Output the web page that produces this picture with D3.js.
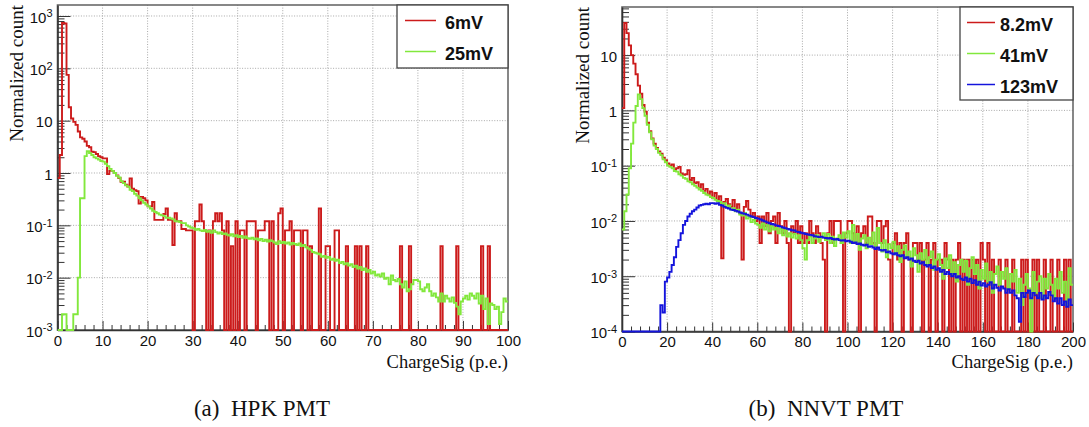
<!DOCTYPE html>
<html>
<head>
<meta charset="utf-8">
<title>ChargeSig spectra</title>
<script src="https://d3js.org/d3.v7.min.js"></script>
<style>
  body { margin: 0; background: #fff; }
  svg { display: block; }
</style>
</head>
<body>
<div id="chart"></div>
<script>
// ---- data ----
// (a) HPK: bins of 0.5 p.e. from 0 to 100
const hpkBinWidth = 0.5;
const hpk6mV = [
  0.8, 2.2, 740, 720, 75, 18, 11, 9.5, 8.3, 6.2,
  4.8, 4.5, 4.0, 3.3, 3.1, 2.55, 2.5, 2.3, 2.1, 2.0,
  1.9, 1.9, 0.95, 1.1, 1.1, 1.0, 0.9, 0.8, 0.68, 0.68,
  0.6, 0.55, 0.79, 0.5, 0.47, 0.45, 0.26, 0.35, 0.33, 0.3,
  0.23, 0.23, 0.28, 0.127, 0.127, 0.127, 0.127, 0.165, 0.21, 0.127,
  0.127, 0.042, 0.17, 0.12, 0.12, 0.085, 0.085, 0.08, 0.08, 0.08,
  0, 0.12, 0.12, 0.25, 0.12, 0.08, 0, 0.08, 0, 0.12,
  0.17, 0.12, 0.17, 0.08, 0, 0.12, 0, 0.04, 0, 0.12,
  0, 0.08, 0.08, 0, 0.12, 0.12, 0.12, 0.12, 0, 0.08,
  0.08, 0.08, 0.12, 0.12, 0, 0.12, 0, 0, 0.17, 0.21,
  0, 0.08, 0.08, 0.12, 0, 0.08, 0.08, 0.08, 0, 0.08,
  0.08, 0, 0.04, 0, 0, 0, 0.21, 0, 0, 0.04,
  0.04, 0, 0, 0.08, 0.08, 0, 0, 0, 0.04, 0,
  0, 0, 0.04, 0, 0.04, 0, 0, 0.04, 0, 0,
  0, 0, 0, 0, 0, 0, 0, 0, 0, 0,
  0, 0, 0.04, 0, 0, 0, 0.04, 0, 0, 0,
  0, 0, 0, 0, 0, 0, 0, 0, 0, 0,
  0.04, 0, 0, 0, 0, 0, 0, 0.04, 0, 0,
  0, 0, 0, 0, 0, 0, 0, 0, 0.04, 0,
  0, 0.04, 0, 0, 0, 0, 0, 0, 0, 0
];
const hpk25mV = [
  0, 0, 0.002, 0.002, 0, 0, 0, 0.002, 0.002, 0.01,
  0.33, 0.33, 2.1, 2.6, 2.4, 2.2, 2.0, 1.9, 1.8, 1.7,
  1.65, 1.5, 1.35, 1.2, 1.1, 1.0, 0.88, 0.82, 0.7, 0.64,
  0.58, 0.55, 0.48, 0.45, 0.4, 0.37, 0.33, 0.3, 0.27, 0.25,
  0.23, 0.21, 0.19, 0.18, 0.17, 0.16, 0.155, 0.15, 0.14, 0.14,
  0.135, 0.13, 0.12, 0.12, 0.115, 0.11, 0.11, 0.1, 0.095, 0.09,
  0.088, 0.082, 0.085, 0.08, 0.078, 0.082, 0.075, 0.078, 0.072, 0.08,
  0.074, 0.07, 0.073, 0.068, 0.07, 0.066, 0.064, 0.068, 0.062, 0.065,
  0.06, 0.063, 0.058, 0.061, 0.057, 0.055, 0.058, 0.054, 0.056, 0.052,
  0.055, 0.05, 0.053, 0.049, 0.052, 0.05, 0.047, 0.044, 0.05, 0.046,
  0.048, 0.045, 0.047, 0.043, 0.046, 0.044, 0.042, 0.045, 0.04, 0.042,
  0.038, 0.036, 0.034, 0.031, 0.03, 0.029, 0.028, 0.025, 0.026, 0.024,
  0.025, 0.022, 0.023, 0.021, 0.022, 0.019, 0.02, 0.018, 0.019, 0.017,
  0.018, 0.016, 0.017, 0.015, 0.016, 0.014, 0.015, 0.013, 0.014, 0.012,
  0.013, 0.011, 0.0115, 0.0105, 0.012, 0.0095, 0.01, 0.0075, 0.011, 0.009,
  0.0085, 0.0095, 0.0075, 0.0065, 0.0085, 0.0055, 0.006, 0.0075, 0.009, 0.009,
  0.0085, 0.006, 0.0055, 0.0065, 0.0075, 0.0055, 0.0045, 0.005, 0.0042, 0.0035,
  0.005, 0.0035, 0.0045, 0.004, 0.0035, 0.0042, 0.0033, 0.0028, 0.002, 0.0035,
  0.004, 0.0045, 0.0038, 0.005, 0.0045, 0.004, 0.005, 0.0032, 0.0045, 0.0025,
  0.004, 0.0013, 0.0032, 0.003, 0.0025, 0.0028, 0.0013, 0.0022, 0.004, 0.0035
];
const hpkXTicks = [0, 10, 20, 30, 40, 50, 60, 70, 80, 90, 100];
const hpkYTicks = [1e-3, 1e-2, 1e-1, 1, 10, 100, 1000];
const hpkLegend = ["6mV", "25mV"];

// (b) NNVT: bins of 1 p.e. from 0 to 200
const nnvtBinWidth = 1;
const nnvt8mV = [
  1.1, 38, 25, 15, 10, 7, 4.5, 2.8, 2.0, 1.25,
  0.95, 0.6, 0.42, 0.31, 0.25, 0.21, 0.18, 0.165, 0.14, 0.125,
  0.11, 0.1, 0.105, 0.085, 0.09, 0.095, 0.072, 0.068, 0.07, 0.083,
  0.055, 0.06, 0.048, 0.05, 0.04, 0.046, 0.035, 0.038, 0.03, 0.034,
  0.026, 0.032, 0.024, 0.028, 0.0021, 0.022, 0.025, 0.02, 0.018, 0.024,
  0.016, 0.02, 0.014, 0.002, 0.018, 0.023, 0.016, 0.012, 0.014, 0.01,
  0.012, 0.004, 0.012, 0.008, 0.014, 0.006, 0.01, 0.012, 0.004, 0.014,
  0.008, 0.006, 0.01, 0.004, 0, 0.008, 0.006, 0.01, 0.004, 0.008,
  0.004, 0.006, 0.004, 0.01, 0.006, 0.004, 0.008, 0.006, 0.004, 0.002,
  0, 0.006, 0.01, 0.004, 0.01, 0.01, 0.01, 0.004, 0, 0.006,
  0.01, 0.01, 0.006, 0.004, 0.008, 0, 0.006, 0.008, 0.004, 0.012,
  0.012, 0.004, 0, 0.01, 0.01, 0.004, 0.008, 0.01, 0.002, 0,
  0.004, 0.006, 0.002, 0.004, 0, 0.004, 0.006, 0.002, 0, 0.004,
  0.004, 0.002, 0.004, 0, 0.002, 0.004, 0, 0.002, 0.004, 0,
  0.002, 0.002, 0, 0.004, 0.002, 0, 0.002, 0, 0.002, 0.004,
  0, 0.002, 0, 0.002, 0, 0.002, 0, 0.002, 0, 0.004,
  0.002, 0, 0.004, 0, 0.002, 0, 0, 0.002, 0, 0,
  0.002, 0, 0, 0.002, 0, 0, 0, 0.002, 0, 0.002,
  0, 0, 0.002, 0, 0.002, 0, 0, 0.002, 0, 0,
  0.002, 0, 0, 0.002, 0, 0, 0.002, 0, 0.002, 0
];
const nnvt41mV = [
  0.007, 0.015, 0.03, 0.09, 0.25, 0.6, 1.2, 1.95, 1.6, 1.1,
  0.8, 0.55, 0.4, 0.3, 0.23, 0.2, 0.17, 0.155, 0.13, 0.115,
  0.1, 0.095, 0.09, 0.08, 0.078, 0.07, 0.066, 0.06, 0.058, 0.052,
  0.05, 0.046, 0.043, 0.04, 0.037, 0.035, 0.032, 0.03, 0.029, 0.027,
  0.026, 0.024, 0.023, 0.022, 0.02, 0.021, 0.018, 0.019, 0.016, 0.017,
  0.015, 0.016, 0.013, 0.0125, 0.014, 0.011, 0.012, 0.0095, 0.0105, 0.009,
  0.0085, 0.0075, 0.009, 0.007, 0.0085, 0.0065, 0.008, 0.007, 0.0075, 0.006,
  0.0072, 0.0055, 0.0068, 0.0052, 0.006, 0.005, 0.0058, 0.0048, 0.0055, 0.0045,
  0.0032, 0.002, 0.0045, 0.0052, 0.004, 0.0048, 0.0055, 0.0042, 0.005, 0.006,
  0.0045, 0.0058, 0.004, 0.0052, 0.0035, 0.0048, 0.0055, 0.004, 0.0062, 0.005,
  0.0065, 0.004, 0.0085, 0.0042, 0.0058, 0.003, 0.0048, 0.0055, 0.0032, 0.005,
  0.0038, 0.0062, 0.0035, 0.0075, 0.004, 0.0028, 0.0045, 0.0022, 0.0038, 0.0032,
  0.0042, 0.0025, 0.0035, 0.0018, 0.003, 0.0036, 0.0022, 0.0028, 0.0015, 0.0032,
  0.0024, 0.0012, 0.0026, 0.002, 0.003, 0.0016, 0.0022, 0.0028, 0.0013, 0.002,
  0.0025, 0.0016, 0.0009, 0.0021, 0.0014, 0.0024, 0.0011, 0.0018, 0.0008, 0.0016,
  0.002, 0.0012, 0.0019, 0.0007, 0.0014, 0.0022, 0.0011, 0.0016, 0.0006, 0.0013,
  0.0009, 0.0017, 0.0008, 0.0012, 0.0005, 0.0011, 0.0015, 0.0007, 0.0012, 0.0009,
  0.0014, 0.0006, 0.0011, 0.0008, 0.0013, 0.0005, 0.0009, 0.0003, 0.0007, 0.0011,
  0.0006, 0.0001, 0.0012, 0.0005, 0.0008, 0.001, 0.0004, 0.0009, 0.0006, 0.0011,
  0.0007, 0.0004, 0.0009, 0.0006, 0.0012, 0.0005, 0.0008, 0.0003, 0.0014, 0.0007
];
const nnvt123mV = [
  0, 0, 0, 0, 0, 0, 0, 0, 0, 0,
  0, 0, 0, 0, 0, 0, 0, 0.0003, 0.00022, 0.0008,
  0.00095, 0.0012, 0.0016, 0.0022, 0.0034, 0.0045, 0.006, 0.0085, 0.01, 0.012,
  0.0135, 0.015, 0.016, 0.0175, 0.019, 0.0195, 0.02, 0.0205, 0.02, 0.021,
  0.021, 0.0205, 0.021, 0.0195, 0.019, 0.018, 0.0172, 0.0168, 0.016, 0.0158,
  0.0152, 0.0148, 0.0142, 0.0138, 0.0134, 0.013, 0.0125, 0.012, 0.0117, 0.0113,
  0.011, 0.0106, 0.0102, 0.0098, 0.0094, 0.0091, 0.0088, 0.0086, 0.0083, 0.0081,
  0.0079, 0.0076, 0.0074, 0.0072, 0.007, 0.0068, 0.0067, 0.0064, 0.0063, 0.0061,
  0.006, 0.0058, 0.0057, 0.0056, 0.0055, 0.0053, 0.0052, 0.0051, 0.0052, 0.005,
  0.0049, 0.0048, 0.0049, 0.0047, 0.0046, 0.0047, 0.0045, 0.0044, 0.0045, 0.0043,
  0.0044, 0.0042, 0.004, 0.0041, 0.0038, 0.0039, 0.0037, 0.0036, 0.0037, 0.0034,
  0.0035, 0.0033, 0.0031, 0.0033, 0.003, 0.0029, 0.003, 0.0027, 0.0028, 0.0026,
  0.0025, 0.0026, 0.0024, 0.0023, 0.0024, 0.0021, 0.0022, 0.002, 0.0021, 0.0019,
  0.0018, 0.0019, 0.0017, 0.0018, 0.0016, 0.0015, 0.0016, 0.0014, 0.0015, 0.0013,
  0.0014, 0.0012, 0.0013, 0.0011, 0.0012, 0.0011, 0.001, 0.0011, 0.00095, 0.001,
  0.0009, 0.00085, 0.00095, 0.0008, 0.0009, 0.00075, 0.00085, 0.0007, 0.0008, 0.00068,
  0.00075, 0.00065, 0.0007, 0.00078, 0.0006, 0.0007, 0.00062, 0.00055, 0.00065, 0.0006,
  0.0005, 0.00058, 0.0005, 0.00055, 0.00045, 0.0004, 0.00015, 0.0005, 0.00042, 0.0005,
  0.00055, 0.0004, 0.0005, 0.00045, 0.0004, 0.0005, 0.00038, 0.00045, 0.0004, 0.00052,
  0.00045, 0.00035, 0.0004, 0.00032, 0.0004, 0.0003, 0.00035, 0.00028, 0.00038, 0.0003
];
const nnvtXTicks = [0, 20, 40, 60, 80, 100, 120, 140, 160, 180, 200];
const nnvtYTicks = [1e-4, 1e-3, 1e-2, 1e-1, 1, 10];
const nnvtLegend = ["8.2mV", "41mV", "123mV"];

const xTitle = "ChargeSig (p.e.)";
const yTitle = "Normalized count";
const captions = ["(a)\u00a0\u00a0HPK PMT", "(b)\u00a0\u00a0NNVT PMT"];

// ---- drawing ----
const RED = "#cc1b1b", GREEN = "#82e83c", BLUE = "#1414dc";
const SANS = "'Liberation Sans', Arial, Helvetica, sans-serif";
const SERIF = "'Liberation Serif', 'Times New Roman', serif";

let svg = d3.select("#chart").append("svg")
    .attr("width", 1089)
    .attr("height", 427);
svg.append("rect").attr("width", 1089).attr("height", 427).attr("fill", "#fff");

function drawPanel(p, id) {
    let g = svg.append("g");
    let x = d3.scaleLinear().domain([0, p.xMax]).range([p.x0, p.x1]);
    let y = d3.scaleLog().domain([p.yMin, p.yMax]).range([p.y1, p.y0]);

    // dotted grid
    g.append("g").selectAll("line")
        .data(p.xTicks.filter(d => d > 0 && d < p.xMax))
        .join("line")
        .attr("x1", d => x(d)).attr("x2", d => x(d))
        .attr("y1", p.y0).attr("y2", p.y1)
        .attr("stroke", "#a8a8a8").attr("stroke-dasharray", "1,1.6");
    g.append("g").selectAll("line")
        .data(p.yTicks.filter(d => d > p.yMin))
        .join("line")
        .attr("x1", p.x0).attr("x2", p.x1)
        .attr("y1", d => y(d)).attr("y2", d => y(d))
        .attr("stroke", "#a8a8a8").attr("stroke-dasharray", "1,1.6");

    // frame
    g.append("rect")
        .attr("x", p.x0).attr("y", p.y0)
        .attr("width", p.x1 - p.x0).attr("height", p.y1 - p.y0)
        .attr("fill", "none").attr("stroke", "#6a6a6a").attr("stroke-width", 1.6);

    // x axis, ticks pointing inward
    let xMinor = d3.range(0, p.xMax + 0.001, p.xMinorStep).filter(d => !p.xTicks.includes(d));
    let ax = g.append("g").attr("transform", "translate(0," + p.y1 + ")")
        .call(d3.axisBottom(x).tickValues(p.xTicks).tickSize(-9).tickSizeOuter(0)
            .tickPadding(5).tickFormat(d3.format("d")));
    g.append("g").attr("transform", "translate(0," + p.y1 + ")")
        .call(d3.axisBottom(x).tickValues(xMinor).tickSize(-5).tickFormat(""))
        .select(".domain").remove();
    ax.select(".domain").attr("stroke", "#333").attr("stroke-width", 1.6);
    ax.selectAll("text").attr("font-family", SANS).attr("font-size", 15).attr("fill", "#111");

    // y axis (log) with 2..9 minor ticks
    let yMinor = [];
    for (let e = Math.floor(Math.log10(p.yMin)); e <= Math.ceil(Math.log10(p.yMax)); e++) {
        for (let k = 2; k <= 9; k++) {
            let v = k * Math.pow(10, e);
            if (v > p.yMin && v < p.yMax) yMinor.push(v);
        }
    }
    let ay = g.append("g").attr("transform", "translate(" + p.x0 + ",0)")
        .call(d3.axisLeft(y).tickValues(p.yTicks).tickSize(-13).tickSizeOuter(0).tickPadding(5));
    g.append("g").attr("transform", "translate(" + p.x0 + ",0)")
        .call(d3.axisLeft(y).tickValues(yMinor).tickSize(-7).tickFormat(""))
        .select(".domain").remove();
    ay.select(".domain").attr("stroke", "#333").attr("stroke-width", 1.6);
    ay.selectAll(".tick text").each(function(d) {
        let t = d3.select(this).text(null)
            .attr("font-family", SANS).attr("font-size", 15).attr("fill", "#111")
            .attr("dy", "0.42em");
        let e = Math.round(Math.log10(d));
        if (e === 0) t.text("1");
        else if (e === 1) t.text("10");
        else {
            t.append("tspan").text("10");
            t.append("tspan").attr("dy", "-0.5em").attr("font-size", 11).text(e);
        }
    });
    g.selectAll(".tick line").attr("stroke", "#333");

    // histograms (step outlines), zero bins sit on the bottom edge
    g.append("clipPath").attr("id", id)
        .append("rect")
        .attr("x", p.x0).attr("y", p.y0)
        .attr("width", p.x1 - p.x0).attr("height", p.y1 - p.y0 + 1.5);
    let line = d3.line().x(d => x(d[0])).y(d => y(d[1]));
    p.series.forEach(s => {
        let pts = [];
        s.values.forEach((v, i) => {
            let c = Math.min(Math.max(v, p.yMin), p.yMax);
            pts.push([i * p.binWidth, c], [(i + 1) * p.binWidth, c]);
        });
        g.append("path")
            .attr("clip-path", "url(#" + id + ")")
            .attr("d", line(pts))
            .attr("fill", "none")
            .attr("stroke", s.color)
            .attr("stroke-width", 1.9)
            .attr("stroke-linejoin", "miter");
    });

    // titles
    g.append("text")
        .attr("x", p.x1).attr("y", p.xTitleY)
        .attr("text-anchor", "end")
        .attr("font-family", SERIF).attr("font-size", 18.5).attr("fill", "#111")
        .text(xTitle);
    g.append("text")
        .attr("transform", "translate(" + p.yTitleX + "," + p.y0 + ") rotate(-90)")
        .attr("text-anchor", "end")
        .attr("font-family", SERIF).attr("font-size", 19).attr("fill", "#111")
        .text(yTitle);

    // legend box
    let L = p.legend;
    g.append("rect")
        .attr("x", L.x0).attr("y", L.y0)
        .attr("width", p.x1 - L.x0).attr("height", L.y1 - L.y0)
        .attr("fill", "#fff").attr("stroke", "#444").attr("stroke-width", 1.3);
    p.series.forEach((s, i) => {
        let ry = L.rowY[i];
        g.append("line")
            .attr("x1", L.lx0).attr("x2", L.lx1)
            .attr("y1", ry).attr("y2", ry)
            .attr("stroke", s.color).attr("stroke-width", 1.5);
        g.append("text")
            .attr("x", L.tx).attr("y", ry + 8.5)
            .attr("font-family", SANS).attr("font-weight", "bold")
            .attr("font-size", 18).attr("fill", "#111")
            .text(s.name);
    });

    // caption
    svg.append("text")
        .attr("x", p.captionX).attr("y", 416)
        .attr("text-anchor", "middle")
        .attr("font-family", SERIF).attr("font-size", 23).attr("fill", "#111")
        .text(p.caption);
}

drawPanel({
    x0: 57.5, x1: 508, y0: 5, y1: 330,
    xMax: 100, xMinorStep: 2, xTicks: hpkXTicks,
    yMin: 1e-3, yMax: Math.pow(10, 3.21), yTicks: hpkYTicks,
    binWidth: hpkBinWidth,
    series: [
        {name: hpkLegend[0], values: hpk6mV, color: RED},
        {name: hpkLegend[1], values: hpk25mV, color: GREEN}
    ],
    legend: {x0: 397, y0: 5, y1: 68, rowY: [20.5, 51.5], lx0: 405, lx1: 436, tx: 445},
    xTitleY: 368, yTitleX: 22.5,
    caption: captions[0], captionX: 262
}, "clipA");

drawPanel({
    x0: 622, x1: 1073, y0: 7, y1: 331.5,
    xMax: 200, xMinorStep: 4, xTicks: nnvtXTicks,
    yMin: 1e-4, yMax: Math.pow(10, 1.87), yTicks: nnvtYTicks,
    binWidth: nnvtBinWidth,
    series: [
        {name: nnvtLegend[0], values: nnvt8mV, color: RED},
        {name: nnvtLegend[1], values: nnvt41mV, color: GREEN},
        {name: nnvtLegend[2], values: nnvt123mV, color: BLUE}
    ],
    legend: {x0: 960, y0: 7, y1: 100, rowY: [22.5, 53.5, 84.5], lx0: 967, lx1: 995, tx: 1000},
    xTitleY: 368, yTitleX: 589,
    caption: captions[1], captionX: 826
}, "clipB");
</script>
</body>
</html>
